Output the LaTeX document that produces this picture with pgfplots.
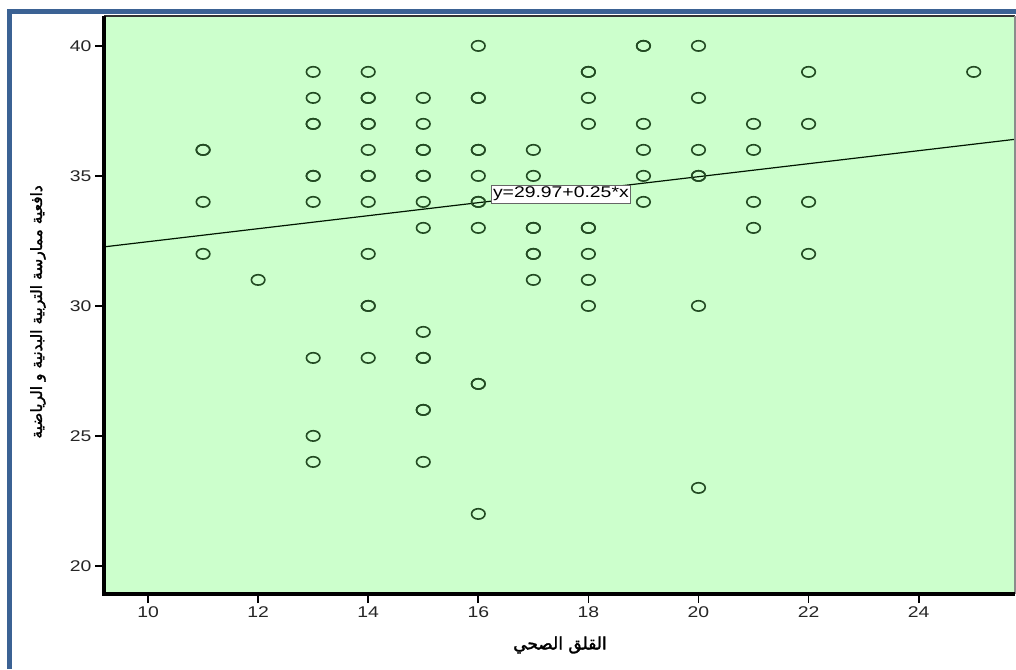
\documentclass[border=0pt]{standalone}
\usepackage{fontspec}
\setmainfont[FakeStretch=1.25]{Liberation Sans}
\newfontfamily\arabicfont[Script=Arabic,FakeBold=1.8]{DejaVu Sans}
\TeXXeTstate=1
\usepackage{pgfplots}
\pgfplotsset{compat=1.18}
\definecolor{bgc}{RGB}{204,255,204}
\definecolor{framec}{RGB}{59,98,148}
\definecolor{markc}{RGB}{35,75,35}
\begin{document}
\begin{tikzpicture}[x=1pt,y=1pt]
\path[use as bounding box, fill=white] (0,0) rectangle (1016,669);
\draw[framec, line width=5pt] (9.5,0) -- (9.5,657) -- (1016,657);
\begin{axis}[at={(104pt,75pt)}, anchor=south west, scale only axis,
  width=911pt, height=578pt,
  xmin=9.2, xmax=25.75, ymin=18.92, ymax=41.15,
  axis line style={draw=none},
  tick pos=left,
  xtick={10,12,...,24}, ytick={20,25,...,40},
  tick align=outside, major tick length=9pt,
  tick style={line width=1.8pt, black},
  axis background/.style={fill=bgc},
  ticklabel style={font=\fontsize{15.5}{17}\selectfont, text=black!85},
  /pgf/number format/assume math mode=true,
  clip=false,
]
\addplot[only marks, mark=o, mark size=5.2pt, mark options={xscale=1.3, line width=1.6pt, draw=markc}] coordinates {
(11,36) (11,36) (11,34) (11,32)
(12,31)
(13,39) (13,38) (13,37) (13,37) (13,35) (13,35) (13,34) (13,28) (13,25) (13,24)
(14,39) (14,38) (14,38) (14,37) (14,37) (14,36) (14,35) (14,35) (14,34) (14,32) (14,30) (14,30) (14,28)
(15,38) (15,37) (15,36) (15,36) (15,35) (15,35) (15,34) (15,33) (15,29) (15,28) (15,28) (15,26) (15,26) (15,24)
(16,40) (16,38) (16,38) (16,36) (16,36) (16,35) (16,34) (16,34) (16,33) (16,27) (16,27) (16,22)
(17,36) (17,35) (17,33) (17,33) (17,32) (17,32) (17,31)
(18,39) (18,39) (18,38) (18,37) (18,33) (18,33) (18,32) (18,31) (18,30)
(19,40) (19,40) (19,37) (19,36) (19,35) (19,34)
(20,40) (20,38) (20,36) (20,35) (20,35) (20,30) (20,23)
(21,37) (21,36) (21,34) (21,33)
(22,39) (22,37) (22,34) (22,32)
(25,39)
};
\addplot[line width=1.2pt, color=black!85!green!60!black] coordinates {(9.2,32.27) (25.75,36.4075)};
\node[draw=black!60, fill=white, line width=0.9pt, inner sep=2pt, font=\fontsize{15.5}{17}\selectfont] at (axis cs:17.5,34.3) {y=29.97+0.25*x};
\draw[line width=2pt, black!80] (rel axis cs:0,1) -- (rel axis cs:1,1);
\draw[line width=1.2pt, black!45] (rel axis cs:1,0) -- (rel axis cs:1,1);
\draw[line width=3.8pt, black] (rel axis cs:0,1) -- (rel axis cs:0,0) -- (rel axis cs:1,0);
\end{axis}
\node[rotate=90, font=\arabicfont\fontsize{15.5}{17}\selectfont] at (38,357) {\beginR دافعية ممارسة التربية البدنية و الرياضية\endR};
\node[font=\arabicfont\fontsize{17}{19}\selectfont] at (560,24) {\beginR القلق الصحي\endR};
\end{tikzpicture}
\end{document}
